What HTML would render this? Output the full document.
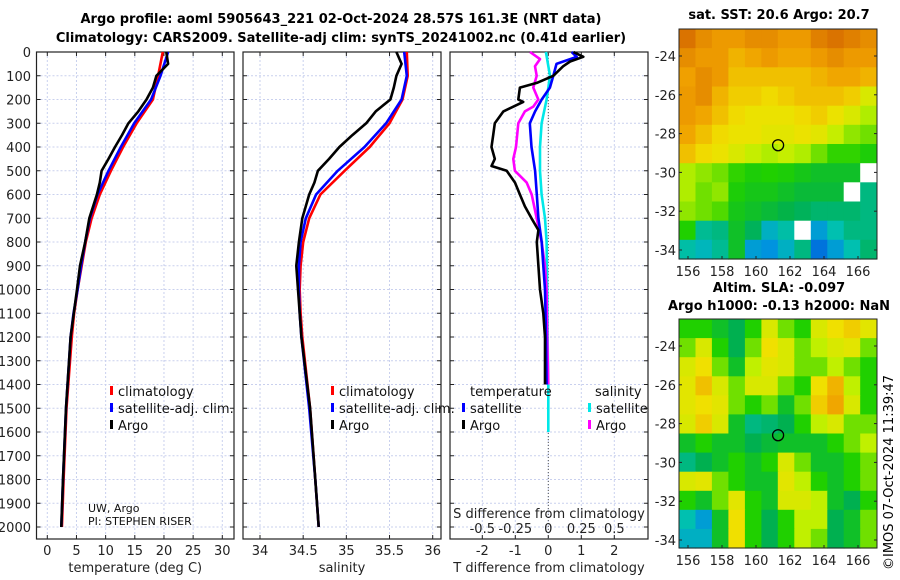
<!DOCTYPE html>
<html><head><meta charset="utf-8"><style>
html,body{margin:0;padding:0;background:#fff;}
svg{display:block;font-family:"DejaVu Sans","Liberation Sans",sans-serif;}
</style></head><body>
<svg id="fig" width="900" height="580" viewBox="0 0 900 580" xmlns="http://www.w3.org/2000/svg">
<text x="341" y="23" text-anchor="middle" font-size="13" font-weight="bold">Argo profile: aoml 5905643_221 02-Oct-2024 28.57S 161.3E (NRT data)</text>
<text x="341" y="42" text-anchor="middle" font-size="13" font-weight="bold">Climatology: CARS2009. Satellite-adj clim: synTS_20241002.nc (0.41d earlier)</text>
<text x="779" y="19" text-anchor="middle" font-size="13" font-weight="bold">sat. SST: 20.6 Argo: 20.7</text>
<text x="779" y="292" text-anchor="middle" font-size="13" font-weight="bold">Altim. SLA: -0.097</text>
<text x="779" y="310" text-anchor="middle" font-size="13" font-weight="bold">Argo h1000: -0.13 h2000: NaN</text>
<text transform="translate(893,570) rotate(-90)" font-size="13">©IMOS 07-Oct-2024 11:39:47</text>
</svg>
<script>
// ---------- data ----------
var depthTicks=[0,100,200,300,400,500,600,700,800,900,1000,1100,1200,1300,1400,1500,1600,1700,1800,1900,2000];
var tempTicks=[0,5,10,15,20,25,30];
var salTicks=[34,34.5,35,35.5,36];
var tdiffTicks=[-2,-1,0,1,2];
var sdiffTicks=[-0.5,-0.25,0,0.25,0.5];
var sdiffTickLabels=["-0.5","-0.25","0","0.25","0.5"];

var climDepth=[0,100,200,300,400,500,600,700,800,900,1000,1100,1200,1500,1800,2000];
var tempClim=[19.8,19.0,18.1,15.3,13.0,10.9,9.0,7.6,6.6,5.9,5.2,4.6,4.2,3.3,2.8,2.5];
var tempSat=[20.7,19.4,17.8,14.9,12.6,10.5,8.6,7.3,6.5,5.8,5.2,4.5,4.0,3.2,2.7,2.4];
var salClim=[35.70,35.71,35.65,35.50,35.27,34.98,34.70,34.57,34.50,34.47,34.46,34.47,34.49,34.58,34.64,34.68];
var salSat=[35.67,35.70,35.64,35.46,35.21,34.90,34.65,34.53,34.47,34.45,34.45,34.46,34.48,34.57,34.64,34.68];

var argoDepth=[0,50,100,150,200,250,300,350,400,450,500,550,600,700,800,900,1000,1200,1500,1800,2000];
var tempArgo=[20.4,20.7,18.7,18.1,17.0,15.6,13.9,12.8,11.6,10.5,9.3,9.0,8.5,7.2,6.5,5.6,5.1,4.0,3.2,2.7,2.4];
var salArgo=[35.58,35.64,35.58,35.55,35.51,35.34,35.23,35.07,34.92,34.80,34.67,34.63,34.57,34.49,34.45,34.42,34.44,34.48,34.58,34.64,34.68];

var tdArgoDepth=[0,20,40,60,100,130,150,200,210,250,300,350,400,450,480,500,550,600,650,700,750,800,900,1000,1100,1200,1400];
var tdArgo=[0.76,1.06,0.66,0.45,0.15,-0.35,-0.86,-0.91,-0.76,-1.36,-1.62,-1.67,-1.72,-1.62,-1.72,-1.26,-1.01,-0.86,-0.71,-0.51,-0.30,-0.35,-0.30,-0.25,-0.15,-0.10,-0.10];
var tdSatDepth=[0,20,50,100,150,200,250,300,400,500,600,700,800,900,1000,1200,1400];
var tdSat=[0.71,0.86,0.25,0.15,0.05,-0.20,-0.40,-0.56,-0.51,-0.40,-0.35,-0.30,-0.20,-0.15,-0.10,-0.07,-0.05];
var sdArgoDepth=[0,30,60,100,150,200,230,250,300,400,450,500,550,600,700,800,900,1000,1200,1400];
var sdArgo=[-0.139,-0.063,-0.101,-0.088,-0.114,-0.076,-0.114,-0.177,-0.227,-0.245,-0.265,-0.253,-0.164,-0.126,-0.088,-0.051,-0.025,-0.013,-0.008,0];
var sdSatDepth=[0,100,200,300,400,500,600,700,800,1000,1200,1400,1600];
var sdSat=[-0.018,0.013,-0.013,-0.051,-0.063,-0.063,-0.051,-0.025,-0.013,-0.008,-0.005,0,0];

var latTicks=[-24,-26,-28,-30,-32,-34];
var lonTicks=[156,158,160,162,164,166];
var sstGrid=[
[0.92,0.88,0.86,0.86,0.88,0.88,0.86,0.86,0.90,0.92,0.90,0.88],
[0.88,0.86,0.86,0.82,0.84,0.86,0.84,0.84,0.86,0.88,0.86,0.86],
[0.85,0.88,0.86,0.80,0.80,0.80,0.80,0.80,0.82,0.84,0.84,0.82],
[0.86,0.88,0.82,0.78,0.78,0.76,0.78,0.80,0.80,0.80,0.78,0.70],
[0.86,0.84,0.80,0.76,0.74,0.74,0.74,0.76,0.78,0.74,0.70,0.64],
[0.84,0.80,0.76,0.74,0.74,0.72,0.72,0.74,0.72,0.66,0.62,0.60],
[0.80,0.76,0.74,0.70,0.66,0.64,0.66,0.64,0.60,0.56,0.56,0.54],
[0.64,0.62,0.60,0.56,0.54,0.55,0.54,0.52,0.50,0.50,0.50,-1],
[0.64,0.60,0.62,0.54,0.52,0.52,0.50,0.48,0.48,0.48,-1,0.40],
[0.62,0.60,0.58,0.52,0.50,0.48,0.46,0.44,0.42,0.42,0.42,0.40],
[0.55,0.38,0.40,0.50,0.44,0.30,0.36,-1,0.25,0.35,0.40,0.40],
[0.36,0.32,0.38,0.50,0.25,0.22,0.30,0.40,0.15,0.25,0.35,0.42]];
var slaGrid=[
[0.55,0.55,0.50,0.45,0.55,0.70,0.60,0.55,0.70,0.75,0.78,0.72],
[0.60,0.70,0.55,0.45,0.60,0.75,0.70,0.60,0.65,0.70,0.72,0.60],
[0.70,0.75,0.60,0.50,0.65,0.72,0.70,0.60,0.60,0.65,0.60,0.55],
[0.72,0.80,0.70,0.60,0.70,0.70,0.60,0.55,0.75,0.82,0.65,0.55],
[0.72,0.75,0.72,0.60,0.55,0.60,0.50,0.60,0.78,0.84,0.70,0.55],
[0.70,0.78,0.70,0.50,0.40,0.42,0.45,0.55,0.65,0.70,0.60,0.60],
[0.50,0.55,0.50,0.50,0.45,0.48,0.50,0.50,0.50,0.55,0.60,0.65],
[0.40,0.45,0.50,0.55,0.50,0.55,0.70,0.60,0.50,0.50,0.55,0.60],
[0.70,0.72,0.60,0.55,0.50,0.50,0.72,0.65,0.55,0.50,0.55,0.60],
[0.55,0.50,0.60,0.72,0.55,0.50,0.70,0.70,0.65,0.50,0.45,0.55],
[0.35,0.25,0.50,0.75,0.55,0.45,0.55,0.65,0.65,0.45,0.50,0.60],
[0.30,0.30,0.50,0.75,0.55,0.45,0.55,0.65,0.60,0.45,0.50,0.60]];
var floatLon=161.3, floatLat=-28.6;

// ---------- helpers ----------
var NS="http://www.w3.org/2000/svg";
var svg=document.getElementById('fig');
function mk(tag,attrs,parent){var e=document.createElementNS(NS,tag);for(var k in attrs)e.setAttribute(k,attrs[k]);(parent||svg).appendChild(e);return e;}
var Y0=52,YB=539,DPX=0.2375;
function yD(d){return Y0+d*DPX;}
function lin(v0,p0,v1,p1){return function(v){return p0+(v-v0)*(p1-p0)/(v1-v0);};}

var panels=[
 {x0:36.5,x1:234,sx:lin(0,47.3,30,222.3),ticks:tempTicks,labels:tempTicks.map(String),title:'temperature (deg C)',name:'temperature'},
 {x0:243,x1:441,sx:lin(34,260,36,432.7),ticks:salTicks,labels:["34","34.5","35","35.5","36"],title:'salinity',name:'salinity'},
 {x0:450,x1:648,sx:lin(0,548.3,1,581.3),ticks:tdiffTicks,labels:tdiffTicks.map(String),title:'T difference from climatology',name:'difference'}
];

panels.forEach(function(p,pi){
  var g=mk('g',{});
  
  
  depthTicks.forEach(function(d){
    var l=mk('line',{x1:p.x0,x2:p.x1,y1:yD(d),y2:yD(d),stroke:'#c9d0ee','stroke-width':1,'stroke-dasharray':'2,2'},g);
    
    
    mk('line',{x1:p.x0,x2:p.x0+4,y1:yD(d),y2:yD(d),stroke:'#222'},g);
    mk('line',{x1:p.x1-4,x2:p.x1,y1:yD(d),y2:yD(d),stroke:'#222'},g);
  });
  p.ticks.forEach(function(t,i){
    var x=p.sx(t);
    var l=mk('line',{x1:x,x2:x,y1:Y0,y2:YB,stroke:'#c9d0ee','stroke-width':1,'stroke-dasharray':'2,2'},g);
    
    
    mk('line',{x1:x,x2:x,y1:YB-4,y2:YB,stroke:'#222'},g);
    mk('line',{x1:x,x2:x,y1:Y0,y2:Y0+4,stroke:'#222'},g);
    var tx=mk('text',{x:x,y:555,'text-anchor':'middle','font-size':13,fill:'#222'},g);
    tx.textContent=p.labels[i];
    
    
  });
  mk('rect',{x:p.x0,y:Y0,width:p.x1-p.x0,height:YB-Y0,fill:'none',stroke:'#222','stroke-width':1.2},g);
  var at=mk('text',{x:(p.x0+p.x1)/2,y:572,'text-anchor':'middle','font-size':13,fill:'#222'},g);
  at.textContent=p.title;
  
  
});
depthTicks.forEach(function(d){
  var t=mk('text',{x:31,y:yD(d)+5,'text-anchor':'end','font-size':13,fill:'#222'});
  t.textContent=String(d);
  
  
});

function series(depths,vals,sx,color,name){
  var pts=depths.map(function(d,i){return sx(vals[i]).toFixed(1)+','+yD(d).toFixed(1);}).join(' ');
  var e=mk('polyline',{points:pts,fill:'none',stroke:color,'stroke-width':2.6,'stroke-linejoin':'round'});
  
  
}
var P=panels;
series(climDepth,tempClim,P[0].sx,'#ff0000','temp-climatology-line');
series(climDepth,tempSat,P[0].sx,'#0000ff','temp-satellite-line');
series(argoDepth,tempArgo,P[0].sx,'#000000','temp-argo-line');
series(climDepth,salClim,P[1].sx,'#ff0000','sal-climatology-line');
series(climDepth,salSat,P[1].sx,'#0000ff','sal-satellite-line');
series(argoDepth,salArgo,P[1].sx,'#000000','sal-argo-line');
var zl=mk('line',{x1:548.3,x2:548.3,y1:Y0,y2:YB,stroke:'#555','stroke-dasharray':'1,2'});


var sS=lin(0,548.3,0.25,581.3);
series(sdSatDepth,sdSat,sS,'#00e8e8','sdiff-satellite-line');
series(sdArgoDepth,sdArgo,sS,'#ff00ff','sdiff-argo-line');
series(tdSatDepth,tdSat,P[2].sx,'#0000ff','tdiff-satellite-line');
series(tdArgoDepth,tdArgo,P[2].sx,'#000000','tdiff-argo-line');

sdiffTicks.forEach(function(v,i){
  var t=mk('text',{x:sS(v),y:533,'text-anchor':'middle','font-size':13,fill:'#222'});
  t.textContent=sdiffTickLabels[i];
  
  
});
var st=mk('text',{x:549,y:518,'text-anchor':'middle','font-size':13,fill:'#222'});
st.textContent='S difference from climatology';



function legend(x,y,color,label,name){
  var m=mk('rect',{x:x,y:y-10,width:3,height:9,fill:color});
  
  
  var t=mk('text',{x:x+8,y:y,'font-size':13,fill:'#111'});
  t.textContent=label;
  
  
}
[[110,'left'],[331,'mid']].forEach(function(a){
  legend(a[0],396,'#ff0000','climatology','legend-climatology-'+a[1]);
  legend(a[0],413,'#0000ff','satellite-adj. clim.','legend-satellite-'+a[1]);
  legend(a[0],430,'#000000','Argo','legend-argo-'+a[1]);
});
var lt=mk('text',{x:470,y:396,'font-size':13,fill:'#111'});lt.textContent='temperature';


var ls=mk('text',{x:595,y:396,'font-size':13,fill:'#111'});ls.textContent='salinity';


legend(462,413,'#0000ff','satellite','legend-t-satellite');
legend(462,430,'#000000','Argo','legend-t-argo');
legend(588,413,'#00e8e8','satellite','legend-s-satellite');
legend(588,430,'#ff00ff','Argo','legend-s-argo');
var pi1=mk('text',{x:88,y:512,'font-size':11,fill:'#111'});pi1.textContent='UW, Argo';


var pi2=mk('text',{x:88,y:525,'font-size':11,fill:'#111'});pi2.textContent='PI: STEPHEN RISER';



// ---------- maps ----------
var stops=[[0,[0,40,190]],[0.2,[0,140,230]],[0.35,[0,192,176]],[0.45,[0,176,80]],[0.55,[32,208,0]],[0.65,[192,240,0]],[0.75,[240,224,0]],[0.85,[240,160,0]],[0.95,[208,96,0]],[1,[200,80,0]]];
function cmap(v){
  if(v<0)return '#ffffff';
  for(var i=1;i<stops.length;i++){if(v<=stops[i][0]){var a=stops[i-1],b=stops[i],f=(v-a[0])/(b[0]-a[0]);
    return 'rgb('+[0,1,2].map(function(k){return Math.round(a[1][k]+f*(b[1][k]-a[1][k]));}).join(',')+')';}}
  return 'rgb(200,80,0)';
}
function drawMap(grid,y0,y1,yLat24,yLat34,name){
  var x0=679,x1=877;
  var lonX=lin(156,688,166,858);
  var latY=lin(-24,yLat24,-34,yLat34);
  var g=mk('g',{});
  
  
  var rows=grid.length,cols=grid[0].length;
  var lon0=155.47,lon1=167.1;
  var ppd=(yLat34-yLat24)/10;
  var lat0=-24+(yLat24-y0)/ppd, lat1=-24-(y1-yLat24)/ppd;
  var dlon=(lon1-lon0)/cols,dlat=(lat0-lat1)/rows;
  grid.forEach(function(row,r){row.forEach(function(v,c){
    var xa=lonX(lon0+c*dlon),xb=lonX(lon0+(c+1)*dlon),ya=latY(lat0-r*dlat),yb=latY(lat0-(r+1)*dlat);
    var cell=mk('rect',{x:xa.toFixed(1),y:ya.toFixed(1),width:(xb-xa+0.6).toFixed(1),height:(yb-ya+0.6).toFixed(1),fill:cmap(v)},g);
    
    
  });});
  mk('rect',{x:x0,y:y0,width:x1-x0,height:y1-y0,fill:'none',stroke:'#222'},g);
  latTicks.forEach(function(l){
    var y=latY(l);
    mk('line',{x1:x0,x2:x0+3,y1:y,y2:y,stroke:'#222'},g);
    mk('line',{x1:x1-3,x2:x1,y1:y,y2:y,stroke:'#222'},g);
    var t=mk('text',{x:676,y:y+5,'text-anchor':'end','font-size':13,fill:'#222'},g);
    t.textContent=String(l);
    
    
  });
  lonTicks.forEach(function(l){
    var x=lonX(l);
    mk('line',{x1:x,x2:x,y1:y1-3,y2:y1,stroke:'#222'},g);
    var t=mk('text',{x:x,y:y1+17,'text-anchor':'middle','font-size':13,fill:'#222'},g);
    t.textContent=String(l);
    
    
  });
  var c=mk('circle',{cx:lonX(floatLon),cy:latY(floatLat),r:5.5,fill:'none',stroke:'#000','stroke-width':1.3},g);
  
  
}
drawMap(sstGrid,29,259,56,250,'sst-map');
drawMap(slaGrid,319,548,346,540,'sla-map');
</script>
</body></html>
